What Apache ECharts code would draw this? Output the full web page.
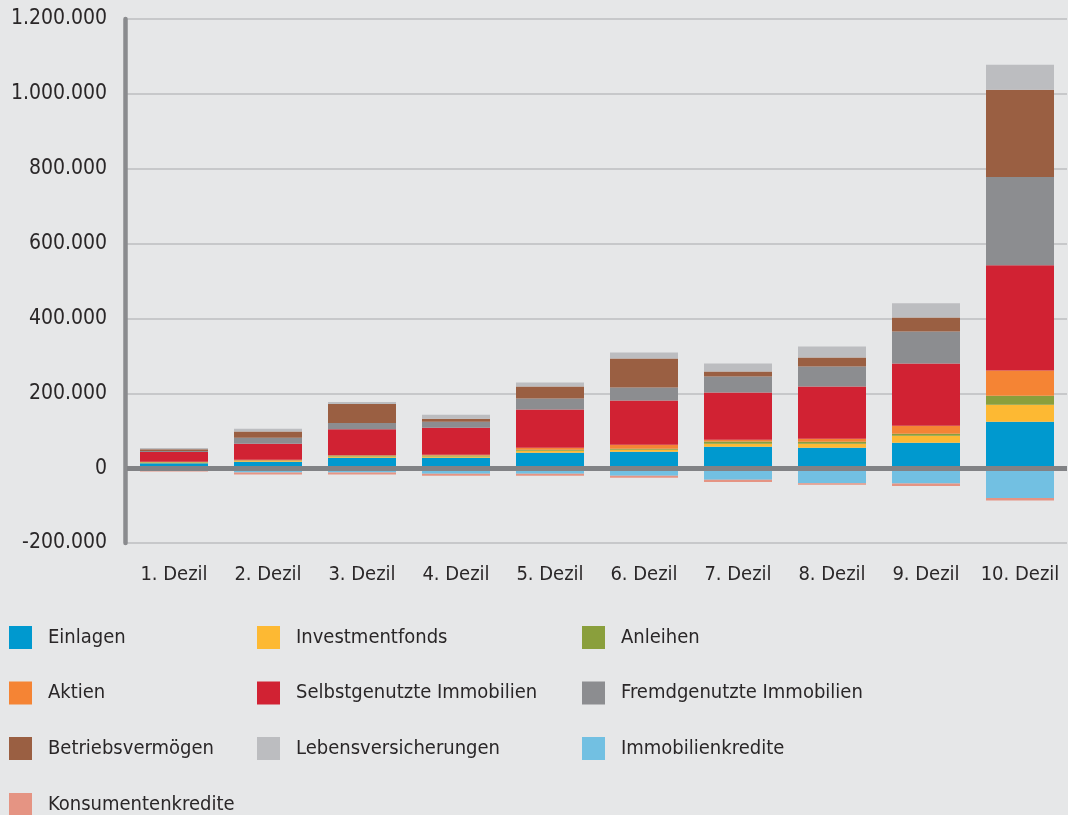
<!DOCTYPE html>
<html>
<head>
<meta charset="utf-8">
<title>Vermögen nach Dezilen</title>
<script src="https://cdn.jsdelivr.net/npm/echarts@6/dist/echarts.min.js"></script>
<style>
  html, body { margin: 0; padding: 0; background: #e6e7e8; }
  #chart { width: 1068px; height: 815px; }
</style>
</head>
<body>
<div id="chart"></div>
<script>
// Kategorien (Dezile)
const categories = ["1. Dezil", "2. Dezil", "3. Dezil", "4. Dezil", "5. Dezil",
  "6. Dezil", "7. Dezil", "8. Dezil", "9. Dezil", "10. Dezil"];

// Werte je Vermögensart (geschätzt)
const einlagen = [13000, 16900, 27600, 27700, 41100, 43800, 57200, 54500, 67900, 124100];
const investmentfonds = [2000, 2500, 3600, 3600, 5400, 5400, 8000, 10700, 18800, 45500];
const anleihen = [1500, 1000, 2700, 2700, 2700, 2700, 6300, 5400, 5400, 24100];
const aktien = [800, 1900, 800, 1800, 5400, 10700, 4500, 8000, 21400, 67000];
const selbstgenutzt = [26000, 43000, 69100, 72300, 101800, 117900, 125900, 139300, 166100, 281300];
const fremdgenutzt = [2500, 15700, 16600, 16100, 29500, 34800, 42900, 53600, 85700, 235700];
const betriebsvermoegen = [5000, 16600, 50700, 8000, 32100, 77700, 13400, 24100, 37500, 233100];
const lebensversicherungen = [3000, 7400, 5500, 10700, 10700, 16100, 21400, 29500, 37500, 67000];
const immobilienkredite = [-6400, -11800, -11800, -15200, -15200, -20500, -31300, -40200, -41100, -79500];
const konsumentenkredite = [-2800, -5300, -5300, -5400, -5400, -5400, -5400, -4500, -6300, -7100];

const yMin = -200000, yMax = 1200000, yStep = 200000;

const font = '"DejaVu Sans Condensed", "DejaVu Sans", sans-serif';
const textColor = "#2a2728";

const seriesDefs = [
  ["Einlagen", einlagen, "#0099cf"],
  ["Investmentfonds", investmentfonds, "#fdb933"],
  ["Anleihen", anleihen, "#8a9f3c"],
  ["Aktien", aktien, "#f58434"],
  ["Selbstgenutzte Immobilien", selbstgenutzt, "#d12233"],
  ["Fremdgenutzte Immobilien", fremdgenutzt, "#8c8d90"],
  ["Betriebsvermögen", betriebsvermoegen, "#9a5f42"],
  ["Lebensversicherungen", lebensversicherungen, "#bcbdc0"],
  ["Immobilienkredite", immobilienkredite, "#72c0e2"],
  ["Konsumentenkredite", konsumentenkredite, "#e59483"]
];

function fmt(v) {
  return v.toString().replace(/(\d)(?=(?:\d{3})+$)/g, "$1.");
}

let series = seriesDefs.map(([name, data, color]) => ({
  name: name,
  type: "bar",
  stack: "total",
  barWidth: 68,
  data: data,
  itemStyle: { color: color },
  emphasis: { disabled: true }
}));

// Nulllinie liegt über den Balken
series[0].markLine = {
  silent: true,
  symbol: "none",
  label: { show: false },
  lineStyle: { color: "#818285", width: 5, type: "solid" },
  data: [{ yAxis: 0 }]
};

// eine Legende pro Spalte, damit die Spalten bündig sind
function legendCol(left, top, names) {
  return {
    data: names,
    orient: "vertical",
    left: left,
    top: top,
    height: 260,
    padding: 0,
    itemWidth: 23,
    itemHeight: 23,
    itemGap: 32.5,
    icon: "rect",
    selectedMode: false,
    textStyle: {
      fontFamily: font,
      fontSize: 20,
      color: textColor,
      padding: [0, 0, 0, 11]
    }
  };
}

const chart = echarts.init(document.getElementById("chart"), null, { renderer: "canvas" });
chart.setOption({
  animation: false,
  backgroundColor: "#e6e7e8",
  grid: { left: 127, right: 1, top: 19, bottom: 272 },
  legend: [
    legendCol(9, 626, ["Einlagen", "Aktien", "Betriebsvermögen"]),
    legendCol(9, 793, ["Konsumentenkredite"]),
    legendCol(257, 626, ["Investmentfonds", "Selbstgenutzte Immobilien", "Lebensversicherungen"]),
    legendCol(582, 626, ["Anleihen", "Fremdgenutzte Immobilien", "Immobilienkredite"])
  ],
  xAxis: {
    type: "category",
    data: categories,
    axisLine: { show: false, onZero: false },
    axisTick: { show: false },
    axisLabel: {
      interval: 0,
      margin: 22,
      fontFamily: font,
      fontSize: 20,
      color: textColor
    }
  },
  yAxis: {
    type: "value",
    min: yMin,
    max: yMax,
    interval: yStep,
    offset: 2,
    axisLine: { show: true, lineStyle: { color: "#8a8b8e", width: 4.5 } },
    axisTick: { show: false },
    splitLine: { lineStyle: { color: "#c7c8ca", width: 2 } },
    axisLabel: {
      margin: 18,
      fontFamily: font,
      fontSize: 21,
      color: textColor,
      formatter: fmt
    }
  },
  series: series
});
</script>
</body>
</html>
